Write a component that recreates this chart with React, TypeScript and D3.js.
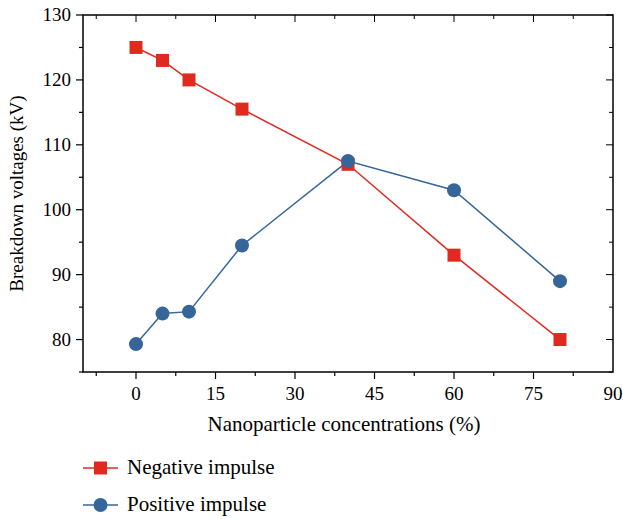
import React, { useRef, useEffect } from "react";
import * as d3 from "d3";

const concentrations = [0, 5, 10, 20, 40, 60, 80];
const negativeImpulse = [125, 123, 120, 115.5, 107, 93, 80];
const positiveImpulse = [79.3, 84, 84.3, 94.5, 107.5, 103, 89];
const xTicks = [0, 15, 30, 45, 60, 75, 90];
const yTicks = [80, 90, 100, 110, 120, 130];

const RED = "#e02a1f";
const BLUE = "#366699";
const FONT = "'Liberation Serif', 'DejaVu Serif', serif";

const App = () => {
  const svgRef = useRef<SVGSVGElement>(null);
  const width = 623;
  const height = 519;
  const margin = { top: 15, right: 10, bottom: 147, left: 83 };

  useEffect(() => {
    const svg = d3.select(svgRef.current);
    svg.selectAll("*").remove();

    const x = d3.scaleLinear().domain([-10, 90]).range([margin.left, width - margin.right]);
    const y = d3.scaleLinear().domain([75, 130]).range([height - margin.bottom, margin.top]);
    const x0 = x.range()[0], x1 = x.range()[1];
    const y0 = y.range()[0], y1 = y.range()[1];

    const xMinor = d3.range(-7.5, 90, 7.5);
    const yMinor = d3.range(75, 131, 5);

    const g = svg.append("g");

    // ticks: outward on left/bottom, inward on top/right
    xMinor.forEach(v => {
      const major = xTicks.includes(v);
      const len = major ? 7 : 4;
      g.append("line").attr("x1", x(v)).attr("x2", x(v)).attr("y1", y0).attr("y2", y0 + len)
        .attr("stroke", "#000").attr("stroke-width", 1.2);
      g.append("line").attr("x1", x(v)).attr("x2", x(v)).attr("y1", y1).attr("y2", y1 + len)
        .attr("stroke", "#000").attr("stroke-width", 1);
    });
    yMinor.forEach(v => {
      const major = yTicks.includes(v);
      const len = major ? 7 : 4;
      g.append("line").attr("x1", x0).attr("x2", x0 - len).attr("y1", y(v)).attr("y2", y(v))
        .attr("stroke", "#000").attr("stroke-width", 1.2);
      g.append("line").attr("x1", x1).attr("x2", x1 - len).attr("y1", y(v)).attr("y2", y(v))
        .attr("stroke", "#000").attr("stroke-width", 1);
    });

    g.append("rect")
      .attr("x", x0).attr("y", y1).attr("width", x1 - x0).attr("height", y0 - y1)
      .attr("fill", "none").attr("stroke", "#000").attr("stroke-width", 1.5);

    g.selectAll(".xl").data(xTicks).enter().append("text")
      .attr("x", d => x(d)).attr("y", y0 + 28)
      .attr("text-anchor", "middle").attr("font-family", FONT).attr("font-size", 19)
      .text(d => d);

    g.selectAll(".yl").data(yTicks).enter().append("text")
      .attr("x", x0 - 12).attr("y", d => y(d) + 6)
      .attr("text-anchor", "end").attr("font-family", FONT).attr("font-size", 19)
      .text(d => d);

    g.append("text")
      .attr("x", (x0 + x1) / 2 - 4).attr("y", y0 + 59)
      .attr("text-anchor", "middle").attr("font-family", FONT).attr("font-size", 21)
      .text("Nanoparticle concentrations (%)");

    g.append("text")
      .attr("transform", `translate(23,${(y0 + y1) / 2}) rotate(-90)`)
      .attr("text-anchor", "middle").attr("font-family", FONT).attr("font-size", 19)
      .text("Breakdown voltages (kV)");

    const line = d3.line<number>().x((d, i) => x(concentrations[i])).y(d => y(d));

    g.append("path").datum(negativeImpulse).attr("d", line)
      .attr("fill", "none").attr("stroke", RED).attr("stroke-width", 1.5);
    g.append("path").datum(positiveImpulse).attr("d", line)
      .attr("fill", "none").attr("stroke", BLUE).attr("stroke-width", 1.5);

    const sq = 13;
    g.selectAll(".neg").data(negativeImpulse).enter().append("rect")
      .attr("x", (d, i) => x(concentrations[i]) - sq / 2).attr("y", d => y(d) - sq / 2)
      .attr("width", sq).attr("height", sq).attr("fill", RED);
    g.selectAll(".pos").data(positiveImpulse).enter().append("circle")
      .attr("cx", (d, i) => x(concentrations[i])).attr("cy", d => y(d))
      .attr("r", 7).attr("fill", BLUE);

    // legend
    const legend = [
      { label: "Negative impulse", color: RED, shape: "square", ly: 468 },
      { label: "Positive impulse", color: BLUE, shape: "circle", ly: 505 },
    ];
    legend.forEach(l => {
      g.append("line").attr("x1", 83).attr("x2", 118).attr("y1", l.ly).attr("y2", l.ly)
        .attr("stroke", l.color).attr("stroke-width", 1.5);
      if (l.shape === "square") {
        g.append("rect").attr("x", 100.5 - sq / 2).attr("y", l.ly - sq / 2)
          .attr("width", sq).attr("height", sq).attr("fill", l.color);
      } else {
        g.append("circle").attr("cx", 100.5).attr("cy", l.ly).attr("r", 7).attr("fill", l.color);
      }
      g.append("text").attr("x", 127).attr("y", l.ly + 6)
        .attr("font-family", FONT).attr("font-size", 21).text(l.label);
    });
  }, []);

  return (
    <svg
      ref={svgRef}
      width={width}
      height={height}
      style={{ position: "absolute", left: 0, top: 0, background: "#fff" }}
    />
  );
};

export default App;
